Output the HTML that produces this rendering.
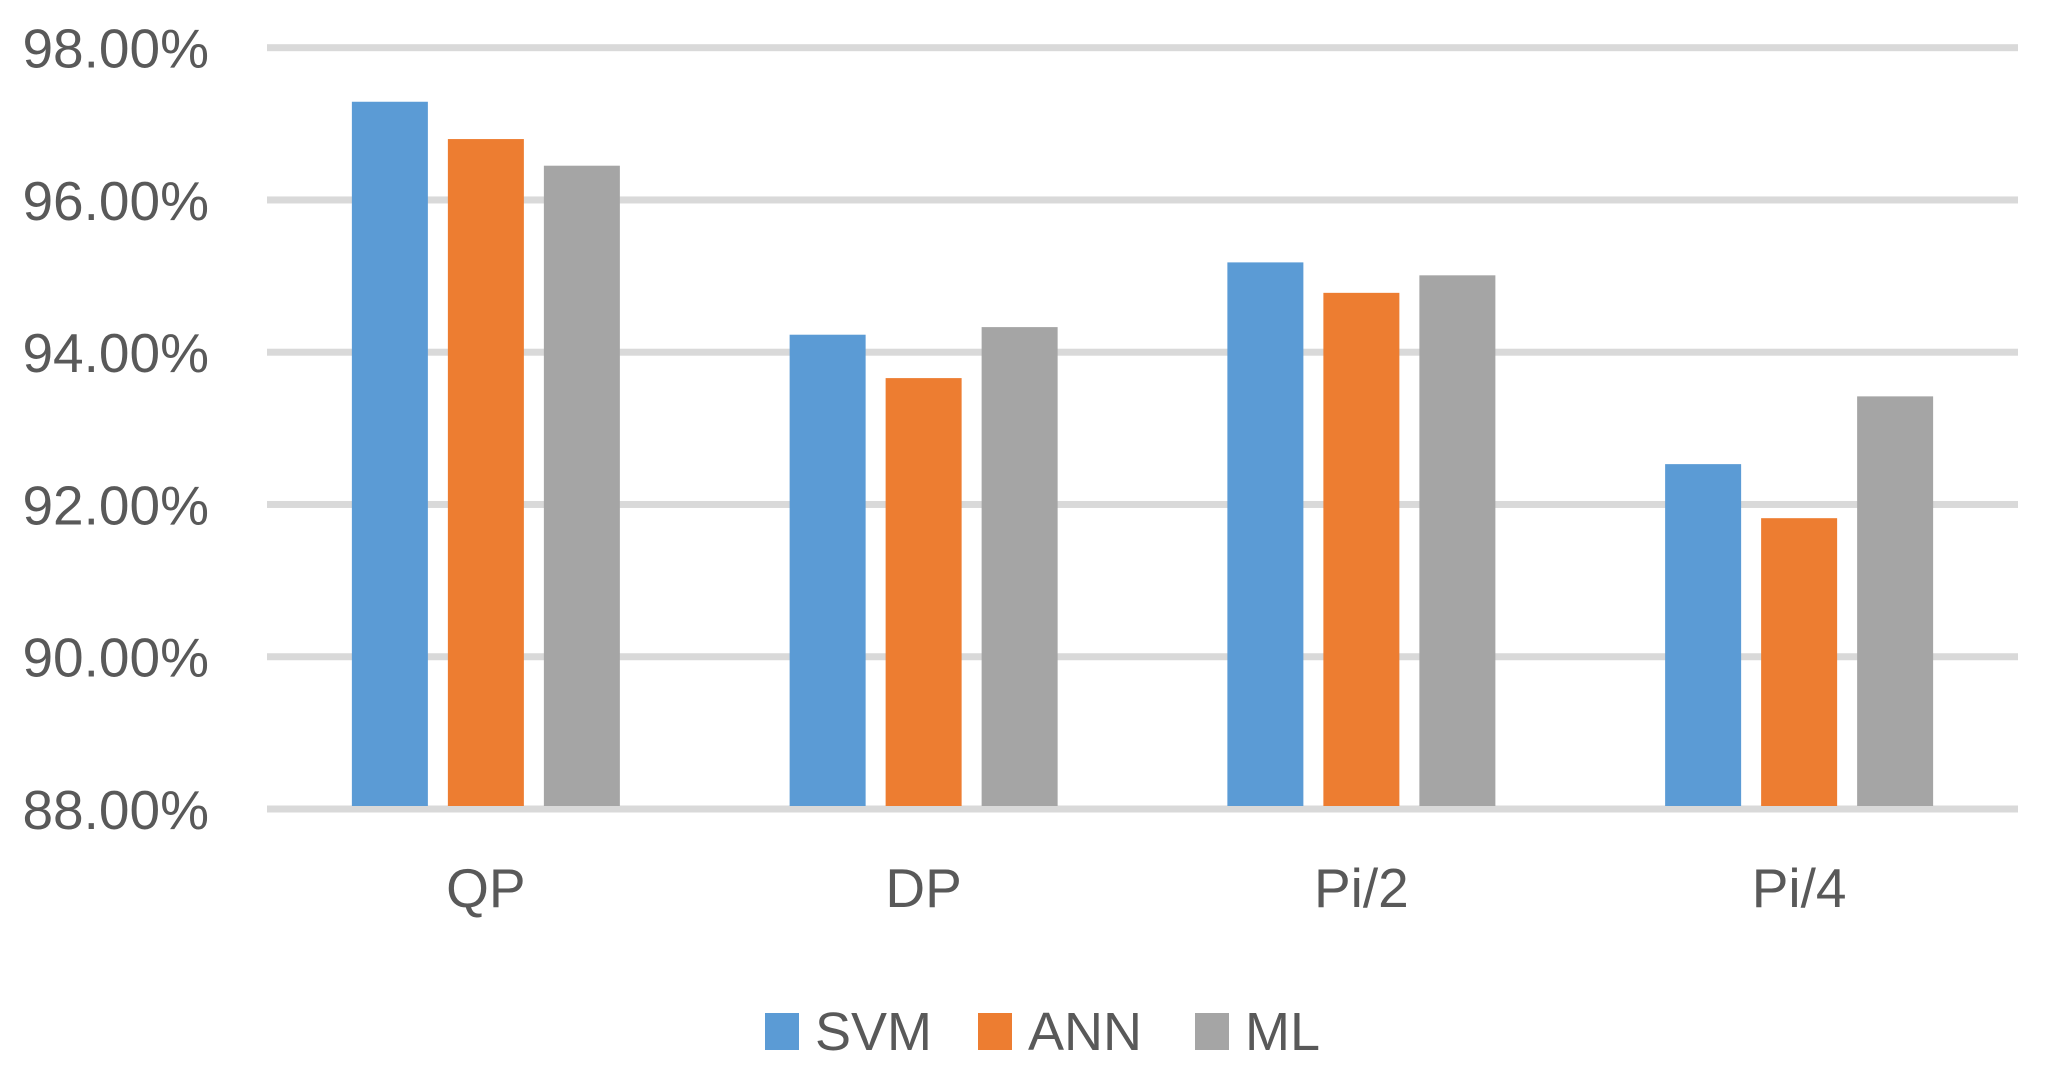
<!DOCTYPE html>
<html><head><meta charset="utf-8"><style>
html,body{margin:0;padding:0;background:#fff;}
svg{display:block;}
text{font-family:"Liberation Sans",sans-serif;fill:#595959;}
</style></head><body>
<svg id="chart" width="2048" height="1076" viewBox="0 0 2048 1076" xmlns="http://www.w3.org/2000/svg">
<g id="grid"></g>
<g id="ylab"></g>
<g id="bars"></g>
<g id="xlab"></g>
<g id="legend"></g>
</svg>
<script>
const categories = ["QP","DP","Pi/2","Pi/4"];
const seriesNames = ["SVM","ANN","ML"];
const svmValues = [97.29, 94.23, 95.18, 92.53];
const annValues = [96.80, 93.66, 94.78, 91.82];
const mlValues = [96.45, 94.33, 95.01, 93.42];
const yTicks = [88, 90, 92, 94, 96, 98];
const yTickLabels = ["88.00%","90.00%","92.00%","94.00%","96.00%","98.00%"];

const NS = "http://www.w3.org/2000/svg";
const colors = ["#5b9bd5","#ed7d31","#a5a5a5"];
const series = [svmValues, annValues, mlValues];
const plotL = 267, plotR = 2018, yTop = 47.7, yBot = 809;
const yMin = 88, yMax = 98;
function y(v){ return yBot - (v - yMin) / (yMax - yMin) * (yBot - yTop); }
const catW = (plotR - plotL) / categories.length;
function xc(i){ return plotL + catW * (i + 0.5); }
const barW = 76, gap = 20;
function mk(tag, attrs, parent){
  const el = document.createElementNS(NS, tag);
  for (const k in attrs) el.setAttribute(k, attrs[k]);
  parent.appendChild(el);
  return el;
}
const grid = document.getElementById('grid');
const ylab = document.getElementById('ylab');
yTicks.forEach((t, i) => {
  const ln = mk('rect', {x: plotL, y: y(t) - 3.5, width: plotR - plotL, height: 7, fill: '#d9d9d9'}, grid);
  
  
  const tx = mk('text', {x: 209, y: y(t) + 20, 'text-anchor': 'end', 'font-size': 55}, ylab);
  tx.textContent = yTickLabels[i];
  
  
});
const bars = document.getElementById('bars');
const xlab = document.getElementById('xlab');
categories.forEach((c, i) => {
  series.forEach((s, j) => {
    const x0 = xc(i) + (j - 1) * (barW + gap) - barW / 2;
    const r = mk('rect', {x: x0, y: y(s[i]), width: barW, height: 806 - y(s[i]), fill: colors[j]}, bars);
    
    
  });
  const t = mk('text', {x: xc(i), y: 907, 'text-anchor': 'middle', 'font-size': 55}, xlab);
  t.textContent = c;
  
  
});
const legend = document.getElementById('legend');
const legX = [765, 978, 1195];
seriesNames.forEach((n, j) => {
  const sq = mk('rect', {x: legX[j], y: 1013, width: 34, height: 37, fill: colors[j]}, legend);
  
  
  const t = mk('text', {x: legX[j] + 50, y: 1050, 'font-size': 54}, legend);
  t.textContent = n;
  
  
});
</script>
</body></html>
